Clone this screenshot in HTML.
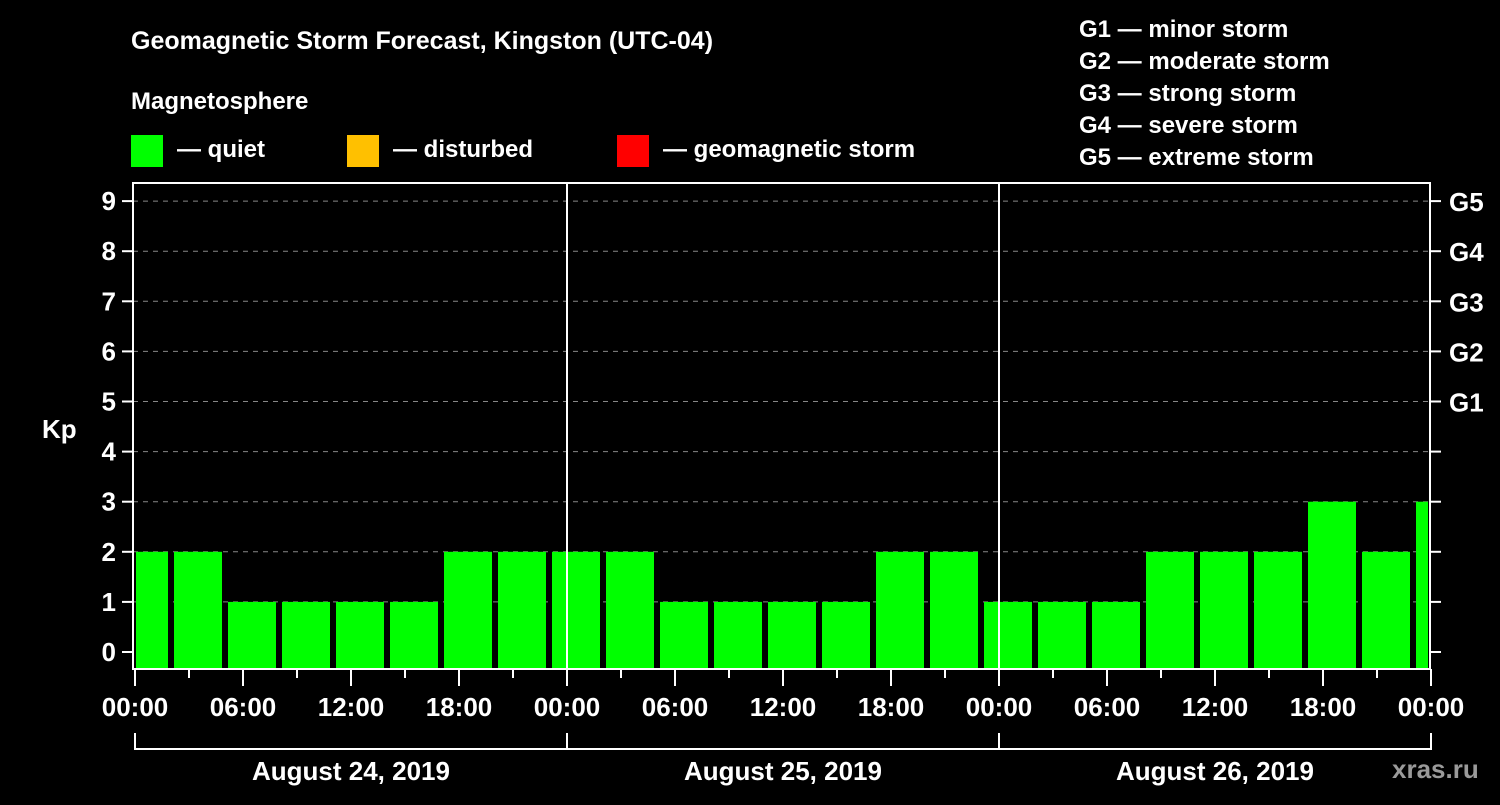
<!DOCTYPE html>
<html><head><meta charset="utf-8"><style>
html,body{margin:0;padding:0;background:#000;}
svg text{font-family:"Liberation Sans",sans-serif;font-weight:bold;fill:#fff;}
</style></head><body>
<svg width="1500" height="800" xmlns="http://www.w3.org/2000/svg">
<rect width="1500" height="800" fill="#000"/>
<text x="131" y="49" font-size="25">Geomagnetic Storm Forecast, Kingston (UTC-04)</text>
<text x="131" y="109" font-size="24">Magnetosphere</text>
<g><rect x="131" y="135" width="32" height="32" fill="#00ff00"/><text x="177" y="157" font-size="24">— quiet</text></g>
<g><rect x="347" y="135" width="32" height="32" fill="#ffc000"/><text x="393" y="157" font-size="24">— disturbed</text></g>
<g><rect x="617" y="135" width="32" height="32" fill="#ff0000"/><text x="663" y="157" font-size="24">— geomagnetic storm</text></g>
<g font-size="24">
<text x="1079" y="37">G1 — minor storm</text>
<text x="1079" y="69">G2 — moderate storm</text>
<text x="1079" y="101">G3 — strong storm</text>
<text x="1079" y="133">G4 — severe storm</text>
<text x="1079" y="165">G5 — extreme storm</text>
</g>
<text x="42" y="438" font-size="26">Kp</text>
<g id="grid"></g><g id="bars"></g><g id="axes"></g>
<text x="1392" y="778" font-size="26" fill="#888" style="fill:#9a9a9a">xras.ru</text>
</svg>
<script>
const values=[2,2,1,1,1,1,2,2,2,2,1,1,1,1,2,2,1,1,1,2,2,2,3,2,3];
const yTicks=[0,1,2,3,4,5,6,7,8,9];
const gLabels=["","","","","","G1","G2","G3","G4","G5"];
const xLabels=["00:00","06:00","12:00","18:00"];
const days=["August 24, 2019","August 25, 2019","August 26, 2019"];
const NS="http://www.w3.org/2000/svg";
const L=133,R=1430,T=183,B=669,X0=135,PXH=18;
const x=h=>X0+h*PXH;
const y=v=>652-v*50.1;
function mk(p,tag,a){const e=document.createElementNS(NS,tag);for(const k in a)e.setAttribute(k,a[k]);document.getElementById(p).appendChild(e);return e;}
yTicks.forEach(v=>{
 if(v>0){const g=mk('grid','line',{x1:L,x2:R,y1:y(v),y2:y(v),stroke:'#888','stroke-dasharray':'5,5','stroke-width':1});
 
 }
 const t=mk('axes','line',{x1:L-11,x2:L,y1:y(v),y2:y(v),stroke:'#fff','stroke-width':2});
 
 
 const t2=mk('axes','line',{x1:R,x2:R+11,y1:y(v),y2:y(v),stroke:'#fff','stroke-width':2});
 
 
 const l=mk('axes','text',{x:L-17,y:y(v)+9,'font-size':26,'text-anchor':'end'});l.textContent=v;
 
 
 if(gLabels[v]){const g2=mk('axes','text',{x:R+19,y:y(v)+10,'font-size':26});g2.textContent=gLabels[v];
 
 }
});
values.forEach((v,i)=>{
 const c=x(0.5+3*i);let x1=Math.max(c-24,L+3),x2=Math.min(c+24,R-2);
 const c1=v<4?'#00ff00':(v<5?'#ffc000':'#ff0000');
 const r=mk('bars','rect',{x:x1,y:y(v),width:x2-x1,height:B-1-y(v),fill:c1});
 
 
});
const fr=mk('axes','rect',{x:L,y:T,width:R-L,height:B-T,fill:'none',stroke:'#fff','stroke-width':2});


[1,2].forEach(d=>{const l=mk('axes','line',{x1:x(24*d),x2:x(24*d),y1:T,y2:B,stroke:'#fff','stroke-width':2});
 
 });
for(let h=0;h<=72;h+=3){
 const major=h%6===0;
 const t=mk('axes','line',{x1:x(h),x2:x(h),y1:B,y2:B+(major?17:9),stroke:'#fff','stroke-width':2});
 
 
 if(major){const lb=mk('axes','text',{x:x(h),y:B+47,'font-size':26,'text-anchor':'middle'});lb.textContent=xLabels[(h%24)/6];
 
 }
}
const br=mk('axes','path',{d:`M${x(0)},733V749H${x(72)}V733`,fill:'none',stroke:'#fff','stroke-width':2});


[1,2].forEach(d=>{const l=mk('axes','line',{x1:x(24*d),x2:x(24*d),y1:733,y2:749,stroke:'#fff','stroke-width':2});
 
 });
days.forEach((d,i)=>{const t=mk('axes','text',{x:x(24*i+12),y:780,'font-size':26,'text-anchor':'middle'});t.textContent=d;
 
 });
</script>
</body></html>
